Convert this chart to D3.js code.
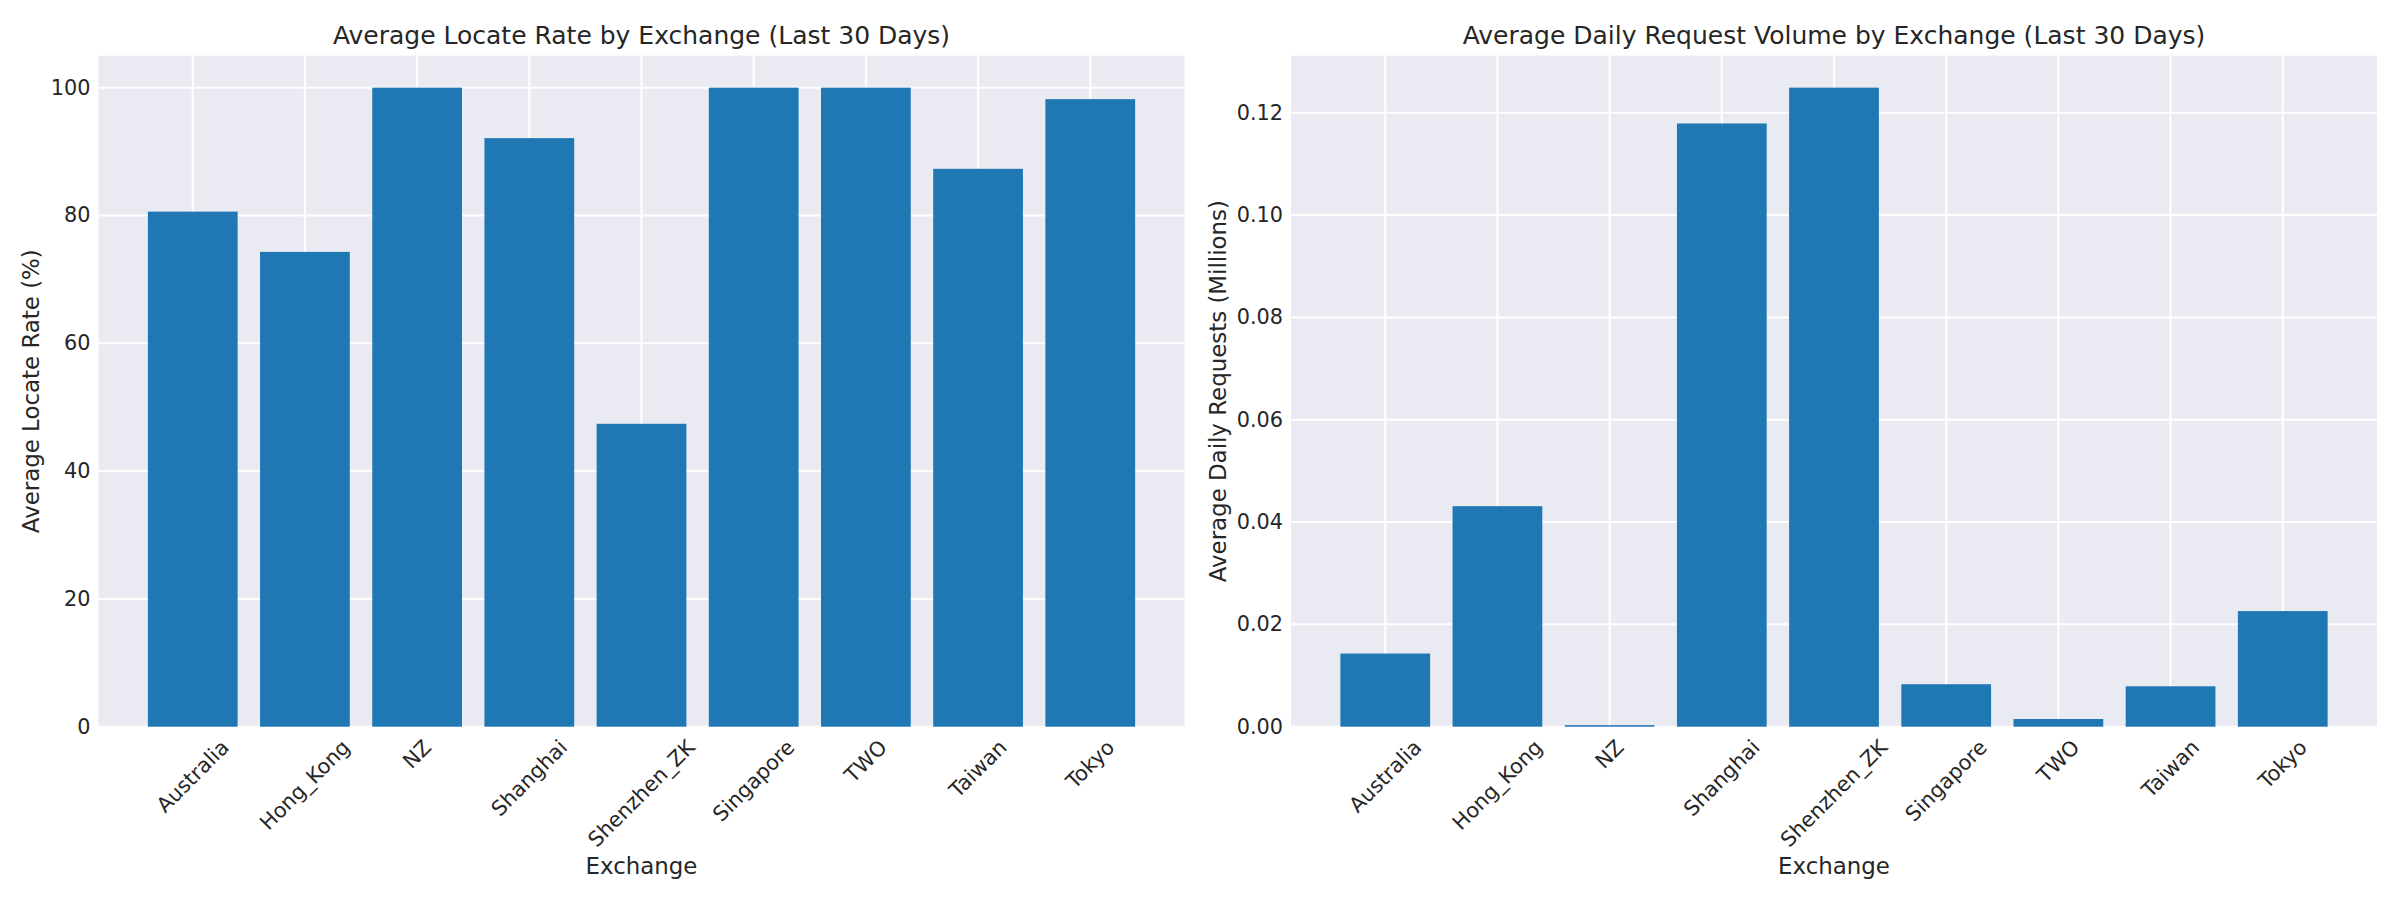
<!DOCTYPE html>
<html>
<head>
<meta charset="utf-8">
<script src="https://cdn.jsdelivr.net/npm/d3@7"></script>
<style>
  body { margin: 0; background: #fff; }
  text { font-family: "DejaVu Sans", sans-serif; fill: #262626; }
</style>
</head>
<body>
<svg width="2400" height="900"></svg>
<script>
// exchanges on the x axis (same for both panels)
const exchanges = ["Australia", "Hong_Kong", "NZ", "Shanghai", "Shenzhen_ZK", "Singapore", "TWO", "Taiwan", "Tokyo"];

// left panel: locate rate in %
const locateRate = [80.6, 74.3, 100, 92.1, 47.4, 100, 100, 87.3, 98.2];
const locateTicks = [0, 20, 40, 60, 80, 100];

// right panel: daily requests in millions
const dailyRequests = [0.0143, 0.0431, 0.0003, 0.1179, 0.1249, 0.0083, 0.0015, 0.0079, 0.0226];
const requestTicks = [0.00, 0.02, 0.04, 0.06, 0.08, 0.10, 0.12];

const svg = d3.select("svg");

const plotTop = 55.7, plotBottom = 726.7;

function drawPanel(opt) {
    const g = svg.append("g");

    // matplotlib style: bars at integers, 0.8 wide, 5% margins
    const n = exchanges.length;
    const lo = -0.4, hi = n - 1 + 0.4, pad = (hi - lo) * 0.05;
    const x = d3.scaleLinear().domain([lo - pad, hi + pad]).range([opt.left, opt.right]);
    const ymax = d3.max(opt.values) * 1.05;
    const y = d3.scaleLinear().domain([0, ymax]).range([plotBottom, plotTop]);

    g.append("rect")
        .attr("x", opt.left).attr("y", plotTop)
        .attr("width", opt.right - opt.left).attr("height", plotBottom - plotTop)
        .attr("fill", "#EAEAF2");

    // grid
    g.append("g").selectAll("line")
        .data(opt.ticks).enter().append("line")
        .attr("x1", opt.left).attr("x2", opt.right)
        .attr("y1", d => y(d)).attr("y2", d => y(d))
        .attr("stroke", "#fff").attr("stroke-width", 2);
    g.append("g").selectAll("line")
        .data(exchanges).enter().append("line")
        .attr("x1", (d, i) => x(i)).attr("x2", (d, i) => x(i))
        .attr("y1", plotTop).attr("y2", plotBottom)
        .attr("stroke", "#fff").attr("stroke-width", 2);

    // bars
    g.append("g").selectAll("rect")
        .data(opt.values).enter().append("rect")
        .attr("x", (d, i) => x(i - 0.4))
        .attr("width", x(0.8) - x(0))
        .attr("y", d => y(d))
        .attr("height", d => y(0) - y(d))
        .attr("fill", "#1f77b4");

    // y tick labels
    g.append("g").selectAll("text")
        .data(opt.ticks).enter().append("text")
        .attr("x", opt.left - 8)
        .attr("y", d => y(d))
        .attr("text-anchor", "end")
        .attr("dominant-baseline", "central")
        .attr("font-size", 20.8)
        .text(opt.fmt);

    // x tick labels, rotated 45, bbox centred under tick
    const fs = 20.8;
    g.append("g").selectAll("text")
        .data(exchanges).enter().append("text")
        .attr("text-anchor", "middle")
        .attr("dominant-baseline", "central")
        .attr("font-size", fs)
        .text(d => d)
        .each(function(d, i) {
            const L = this.getComputedTextLength();
            const ext = (L + fs * 0.95) * Math.SQRT1_2;
            const cx = x(i), cy = plotBottom + 10 + ext / 2;
            d3.select(this).attr("transform", `translate(${cx},${cy}) rotate(-45)`);
        });

    // titles and labels
    const mid = (opt.left + opt.right) / 2;
    g.append("text")
        .attr("x", mid).attr("y", 35)
        .attr("text-anchor", "middle").attr("dominant-baseline", "central")
        .attr("font-size", 25)
        .text(opt.title);
    g.append("text")
        .attr("x", mid).attr("y", 866)
        .attr("text-anchor", "middle").attr("dominant-baseline", "central")
        .attr("font-size", 22.9)
        .text("Exchange");
    g.append("text")
        .attr("transform", `translate(${opt.ylabX},${(plotTop + plotBottom) / 2}) rotate(-90)`)
        .attr("text-anchor", "middle").attr("dominant-baseline", "central")
        .attr("font-size", 22.9)
        .text(opt.ylabel);
}

drawPanel({
    left: 98.5, right: 1184.5,
    values: locateRate, ticks: locateTicks,
    fmt: d => d3.format("d")(d),
    title: "Average Locate Rate by Exchange (Last 30 Days)",
    ylabel: "Average Locate Rate (%)",
    ylabX: 31
});

drawPanel({
    left: 1291, right: 2377,
    values: dailyRequests, ticks: requestTicks,
    fmt: d => d3.format(".2f")(d),
    title: "Average Daily Request Volume by Exchange (Last 30 Days)",
    ylabel: "Average Daily Requests (Millions)",
    ylabX: 1218
});
</script>
</body>
</html>
